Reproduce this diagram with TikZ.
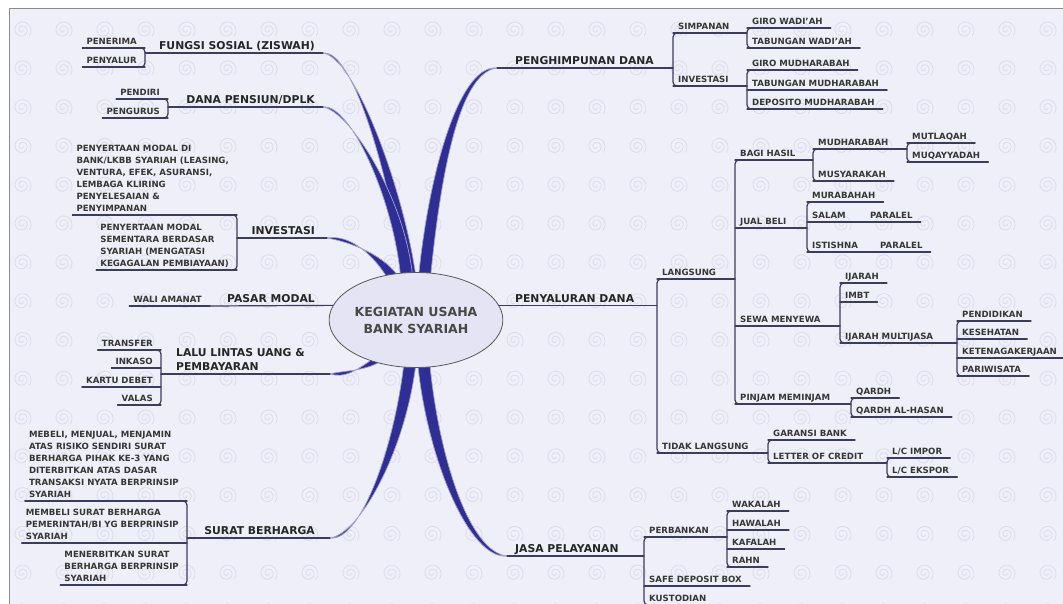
\documentclass[tikz,border=0pt]{standalone}
\usepackage{fontspec}
\setmainfont{DejaVu Sans}
\usetikzlibrary{shapes.geometric,calc}
\pgfdeclarelayer{back}\pgfdeclarelayer{mid}
\pgfsetlayers{back,mid,main}
\definecolor{bgc}{HTML}{EFEFF9}
\definecolor{spc}{HTML}{DCDCEC}
\definecolor{brc}{HTML}{2E2E94}
\definecolor{lnc}{HTML}{3C3C5C}
\definecolor{txc}{HTML}{363636}
\definecolor{elc}{HTML}{E4E4F4}
\definecolor{frc}{HTML}{8A8A8A}
\newcommand\smf{\fontsize{8.6}{12}\selectfont\bfseries}
\newcommand\bgf{\fontsize{10.8}{14}\selectfont\bfseries}
\tikzset{
 uline/.style={draw=lnc, line width=1.2pt, line cap=round},
 rchild/.style={font=\smf, text=txc, anchor=south west, inner xsep=5pt, inner ysep=3pt, text depth=0pt,
   append after command={(\tikzlastnode.south west) edge[uline] ([xshift=3pt]\tikzlastnode.south east)}},
 lchild/.style={font=\smf, text=txc, anchor=south east, inner xsep=8pt, inner ysep=3pt, text depth=0pt, align=left,
   append after command={([xshift=4pt]\tikzlastnode.south west) edge[uline] (\tikzlastnode.south east)}},
 mainl/.style={font=\bgf, text=black!85, inner xsep=8pt, inner ysep=3pt, text depth=0pt, align=left},
 spiral/.style={draw=spc, line width=0.8pt},
 branch/.style={fill=brc, draw=brc!45, line width=0.7pt},
}
\newcommand\bracketR[2]{\draw[uline, rounded corners=4pt] ([xshift=6pt]#1.south west) -- (#1.south west) -- (#2.south west) -- ([xshift=6pt]#2.south west);}
\newcommand\bracketL[2]{\draw[uline, rounded corners=4pt] ([xshift=-6pt]#1.south east) -- (#1.south east) -- (#2.south east) -- ([xshift=-6pt]#2.south east);}
\newcommand\joinR[2]{\draw[uline] (#1.south east) -- (#1.south east -| #2.south west);}
% root, control 1, control 2, end, side sign
\newcommand\mribbon[5]{\path[branch] ($(#1)+(-6,0)$) .. controls ($(#2)+(-6,0)$) and ($(#3)+(0,-4*#5)$) .. (#4) .. controls ($(#3)+(0,4*#5)$) and ($(#2)+(6,0)$) .. ($(#1)+(6,0)$) -- cycle;}
\begin{document}
\begin{tikzpicture}[x=1pt,y=-1pt]
\useasboundingbox (0,0) rectangle (1063,604);
\begin{pgfonlayer}{back}
\fill[white] (0,0) rectangle (1063,604);
\fill[bgc] (9,9) rectangle (1063,604);
\foreach \i in {0,...,25}{\foreach \j in {0,...,15}{
  \draw[spiral, shift={(22+41*\i,30+38.8*\j)}] plot[domain=0:760, samples=40, variable=\t] ({(1+\t/90)*cos(\t)},{(1+\t/90)*sin(\t)});
}}
\draw[frc, line width=1pt] (9,604) -- (9,9) -- (1063,9);
\end{pgfonlayer}

% centre
\node[ellipse, draw=black!65, line width=0.8pt, fill=elc, minimum width=164pt, minimum height=95pt, inner sep=0pt,
  align=center, font=\fontsize{12.5}{17}\selectfont\bfseries, text=black!72] (c) at (416,320) {KEGIATAN USAHA\\BANK SYARIAH};

% end points of the main branches
\coordinate (fE) at (323,53);
\coordinate (dE) at (323,107);
\coordinate (iE) at (327,238);
\coordinate (lE) at (330,374);
\coordinate (sE) at (330,538);
\coordinate (pE) at (497,68);
\coordinate (jE) at (507,556);
\coordinate (rF) at ($(c.97)+(0,6)$);
\coordinate (rD) at ($(c.101)+(0,6)$);
\coordinate (rI) at ($(c.115)+(0,6)$);
\coordinate (rP) at ($(c.80)+(0,6)$);
\coordinate (rL) at ($(c.227)+(3,-4)$);
\coordinate (rS) at ($(c.263)+(0,-6)$);
\coordinate (rJ) at ($(c.279)+(0,-6)$);
\begin{pgfonlayer}{mid}
\mribbon{rF}{398,190}{355,53}{fE}{1}
\mribbon{rD}{400,200}{350,107}{dE}{1}
\mribbon{rI}{380,255}{350,238}{iE}{1}
\mribbon{rP}{435,170}{460,68}{pE}{1}
\mribbon{rL}{360,372}{345,374}{lE}{-1}
\mribbon{rS}{400,450}{360,538}{sE}{-1}
\mribbon{rJ}{433,460}{470,556}{jE}{-1}
\end{pgfonlayer}

% ---------- LEFT ----------
\node[mainl, anchor=south east] (fungsi) at (fE) {FUNGSI SOSIAL (ZISWAH)};
\node[lchild] (pener) at (145,48) {PENERIMA};
\node[lchild] (penya) at (145,67) {PENYALUR};
\bracketL{pener}{penya}
\draw[uline] (fE) -- (fE -| pener.south east);

\node[mainl, anchor=south east] (dana) at (dE) {DANA PENSIUN/DPLK};
\node[lchild] (pendiri) at (168,99) {PENDIRI};
\node[lchild] (pengurus) at (168,118) {PENGURUS};
\bracketL{pendiri}{pengurus}
\draw[uline] (dE) -- (dE -| pendiri.south east);

\node[mainl, anchor=south east] (inv) at (323,238) {INVESTASI};
\node[lchild] (inv1) at (237,215) {PENYERTAAN MODAL DI\\BANK/LKBB SYARIAH (LEASING,\\VENTURA, EFEK, ASURANSI,\\LEMBAGA KLIRING\\PENYELESAIAN \&\\PENYIMPANAN};
\node[lchild] (inv2) at (237,270) {PENYERTAAN MODAL\\SEMENTARA BERDASAR\\SYARIAH (MENGATASI\\KEGAGALAN PEMBIAYAAN)};
\bracketL{inv1}{inv2}
\draw[uline] (iE) -- (iE -| inv1.south east);

\node[mainl, anchor=south east] (pasar) at (323,306) {PASAR MODAL};
\node[lchild] (wali) at (210,306) {WALI AMANAT};
\draw[uline] (c.170) -- (wali.south east);

\node[mainl, anchor=south west] (lalu) at (168,374) {LALU LINTAS UANG \&\\PEMBAYARAN};
\node[lchild] (transfer) at (161,350) {TRANSFER};
\node[lchild] (inkaso) at (161,368) {INKASO};
\node[lchild] (kartu) at (161,387) {KARTU DEBET};
\node[lchild] (valas) at (161,405) {VALAS};
\bracketL{transfer}{valas}
\draw[uline] (lE) -- (lE -| transfer.south east);

\node[mainl, anchor=south east] (surat) at (323,538) {SURAT BERHARGA};
\node[lchild] (sb1) at (187,501) {MEBELI, MENJUAL, MENJAMIN\\ATAS RISIKO SENDIRI SURAT\\BERHARGA PIHAK KE-3 YANG\\DITERBITKAN ATAS DASAR\\TRANSAKSI NYATA BERPRINSIP\\SYARIAH};
\node[lchild] (sb2) at (187,543) {MEMBELI SURAT BERHARGA\\PEMERINTAH/BI YG BERPRINSIP\\SYARIAH};
\node[lchild] (sb3) at (187,585) {MENERBITKAN SURAT\\BERHARGA BERPRINSIP\\SYARIAH};
\bracketL{sb1}{sb3}
\draw[uline] (sE) -- (sE -| sb1.south east);

% ---------- RIGHT ----------
\node[mainl, anchor=south west] (peng) at (507,68) {PENGHIMPUNAN DANA};
\node[rchild] (simp) at (673,33) {SIMPANAN};
\node[rchild] (invr) at (673,86) {INVESTASI};
\bracketR{simp}{invr}
\draw[uline] (pE) -- (pE -| simp.south west);
\node[rchild] (gw) at (747,28) {GIRO WADI'AH};
\node[rchild] (tw) at (747,48) {TABUNGAN WADI'AH};
\bracketR{gw}{tw}
\joinR{simp}{gw}
\node[rchild] (gm) at (747,70) {GIRO MUDHARABAH};
\node[rchild] (tm) at (747,90) {TABUNGAN MUDHARABAH};
\node[rchild] (dm) at (747,109) {DEPOSITO MUDHARABAH};
\bracketR{gm}{dm}
\joinR{invr}{gm}

\node[mainl, anchor=south west] (peny) at (507,306) {PENYALURAN DANA};
\node[rchild] (lang) at (657,279) {LANGSUNG};
\node[rchild] (tlang) at (657,453) {TIDAK LANGSUNG};
\bracketR{lang}{tlang}
\draw[uline] (c.10) -- (c.10 -| lang.south west);

\node[rchild] (bagi) at (735,160) {BAGI HASIL};
\node[rchild] (jual) at (735,228) {JUAL BELI};
\node[rchild] (sewa) at (735,326) {SEWA MENYEWA};
\node[rchild] (pinjam) at (735,404) {PINJAM MEMINJAM};
\bracketR{bagi}{pinjam}
\joinR{lang}{bagi}

\node[rchild] (mudh) at (813,149) {MUDHARABAH};
\node[rchild] (musy) at (813,181) {MUSYARAKAH};
\bracketR{mudh}{musy}
\joinR{bagi}{mudh}
\node[rchild] (mutl) at (907,143) {MUTLAQAH};
\node[rchild] (muqa) at (907,162) {MUQAYYADAH};
\bracketR{mutl}{muqa}
\joinR{mudh}{mutl}

\node[rchild] (mura) at (807,202) {MURABAHAH};
\node[rchild] (salam) at (807,222) {SALAM};
\node[rchild] (isti) at (807,252) {ISTISHNA};
\bracketR{mura}{isti}
\joinR{jual}{mura}
\node[rchild] (par1) at (865,222) {PARALEL};
\joinR{salam}{par1}
\node[rchild] (par2) at (875,252) {PARALEL};
\joinR{isti}{par2}

\node[rchild] (ijar) at (840,283) {IJARAH};
\node[rchild] (imbt) at (840,302) {IMBT};
\node[rchild] (ijmu) at (840,343) {IJARAH MULTIJASA};
\bracketR{ijar}{ijmu}
\joinR{sewa}{ijar}
\node[rchild] (pend) at (957,321) {PENDIDIKAN};
\node[rchild] (kese) at (957,339) {KESEHATAN};
\node[rchild] (kete) at (957,358) {KETENAGAKERJAAN};
\node[rchild] (pari) at (957,376) {PARIWISATA};
\bracketR{pend}{pari}
\joinR{ijmu}{pend}

\node[rchild] (qardh) at (851,398) {QARDH};
\node[rchild] (qah) at (851,417) {QARDH AL-HASAN};
\bracketR{qardh}{qah}
\joinR{pinjam}{qardh}

\node[rchild] (gara) at (768,440) {GARANSI BANK};
\node[rchild] (loc) at (768,463) {LETTER OF CREDIT};
\bracketR{gara}{loc}
\joinR{tlang}{gara}
\node[rchild] (lci) at (887,458) {L/C IMPOR};
\node[rchild] (lce) at (887,477) {L/C EKSPOR};
\bracketR{lci}{lce}
\joinR{loc}{lci}

\node[mainl, anchor=south west] (jasa) at (507,556) {JASA PELAYANAN};
\node[rchild] (perb) at (644,537) {PERBANKAN};
\node[rchild] (sdb) at (644,586) {SAFE DEPOSIT BOX};
\node[rchild] (kust) at (644,605) {KUSTODIAN};
\bracketR{perb}{kust}
\draw[uline] (jE) -- (jE -| perb.south west);
\node[rchild] (waka) at (727,511) {WAKALAH};
\node[rchild] (hawa) at (727,530) {HAWALAH};
\node[rchild] (kafa) at (727,549) {KAFALAH};
\node[rchild] (rahn) at (727,567) {RAHN};
\bracketR{waka}{rahn}
\joinR{perb}{waka}
\end{tikzpicture}
\end{document}
